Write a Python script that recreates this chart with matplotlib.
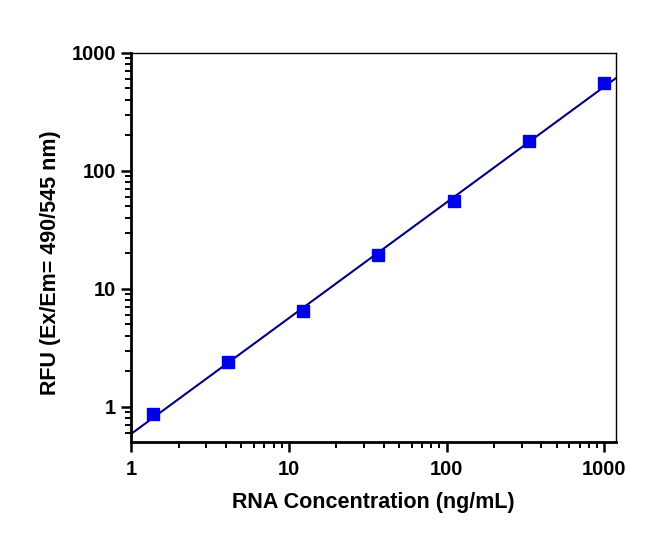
import numpy as np
import matplotlib
matplotlib.use("Agg")
import matplotlib.pyplot as plt
from matplotlib.ticker import LogLocator, FixedLocator, NullFormatter

# RNA standard curve (3-fold dilution series)
conc = [1.37, 4.12, 12.3, 37.0, 111.0, 333.0, 1000.0]
rfu = [0.867, 2.41, 6.51, 19.3, 55.3, 179.6, 557.0]
x_ticks = [1, 10, 100, 1000]
y_ticks = [1, 10, 100, 1000]

plt.rcParams["font.family"] = ["Liberation Sans", "DejaVu Sans"]
plt.rcParams["font.weight"] = "bold"

fig = plt.figure(figsize=(6.66, 5.5), dpi=100)
ax = fig.add_axes([0.197, 0.196, 0.728, 0.708])

# linear fit in log-log space
slope, icpt = np.polyfit(np.log10(conc), np.log10(rfu), 1)
xfit = np.array([1.0, 1200.0])
ax.plot(xfit, 10 ** icpt * xfit ** slope, color="#00007a", lw=1.5, zorder=2)
ax.plot(conc, rfu, ls="none", marker="s", ms=8, color="#0000e6", zorder=3)

ax.set_xscale("log")
ax.set_yscale("log")
ax.set_xlim(1, 1189)
ax.set_ylim(0.502, 1000)

ax.xaxis.set_major_locator(FixedLocator(x_ticks))
ax.yaxis.set_major_locator(FixedLocator(y_ticks))
ax.set_xticklabels([str(t) for t in x_ticks])
ax.set_yticklabels([str(t) for t in y_ticks])
ax.xaxis.set_minor_locator(LogLocator(base=10, subs=np.arange(2, 10)))
ax.yaxis.set_minor_locator(LogLocator(base=10, subs=np.arange(2, 10)))
ax.xaxis.set_minor_formatter(NullFormatter())
ax.yaxis.set_minor_formatter(NullFormatter())

ax.tick_params(which="major", direction="out", length=7, width=1.8,
               labelsize=14.5, top=False, right=False)
ax.tick_params(axis="x", which="major", pad=6)
ax.tick_params(axis="y", which="major", pad=4)
ax.tick_params(which="minor", direction="out", length=4, width=1.4,
               top=False, right=False)
for lab in ax.get_xticklabels() + ax.get_yticklabels():
    lab.set_fontweight("bold")

for side in ["left", "bottom"]:
    ax.spines[side].set_linewidth(2)
for side in ["top", "right"]:
    ax.spines[side].set_linewidth(1)

ax.set_xlabel("RNA Concentration (ng/mL)", fontsize=15.5, fontweight="bold")
ax.set_ylabel("RFU (Ex/Em= 490/545 nm)", fontsize=15.5, fontweight="bold")
ax.xaxis.set_label_coords(0.5, -0.127)
ax.yaxis.set_label_coords(-0.145, 0.46)

fig.savefig("out.png", dpi=100)
